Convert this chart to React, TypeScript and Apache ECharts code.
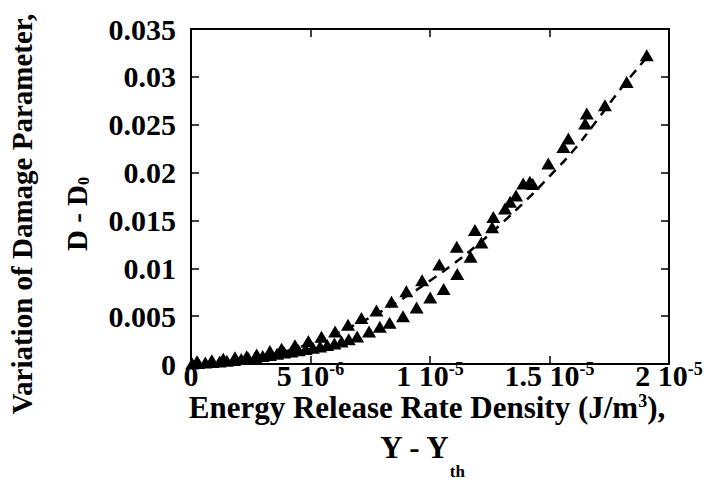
import React, { useEffect, useRef } from "react";
import * as echarts from "echarts";

// Energy release rate density (units of 1e-6 J/m^3) and damage variation (units of 1e-3)
const upperX = [0.25, 0.87, 1.35, 1.84, 2.33, 2.75, 3.3, 3.79, 4.35, 4.91, 5.46, 6.03, 6.57, 7.13, 7.76, 8.39, 9.01, 9.67, 10.39, 11.12, 11.88, 12.65, 13.35, 13.9, 14.18, 14.95, 15.79, 16.56, 17.32, 18.23, 19.07];
const upperY = [0.3, 0.4, 0.55, 0.7, 0.8, 1.0, 1.35, 1.6, 1.95, 2.4, 2.85, 3.4, 4.1, 4.8, 5.6, 6.5, 7.6, 8.75, 10.4, 12.24, 13.99, 15.37, 16.94, 18.86, 19.03, 20.95, 23.56, 26.17, 27.04, 29.47, 32.25];

const lowerX = [0.05, 0.3, 0.6, 0.9, 1.2, 1.5, 1.8, 2.1, 2.4, 2.7, 3.0, 3.3, 3.6, 3.9, 4.2, 4.5, 4.8, 5.1, 5.4, 5.7, 6.0, 6.3, 6.6, 6.95, 7.45, 7.9, 8.31, 8.87, 9.44, 10.01, 10.57, 11.14, 11.7, 12.15, 12.6, 13.14, 13.6, 14.3, 15.58, 16.49];
const lowerY = [0.05, 0.1, 0.15, 0.2, 0.27, 0.35, 0.43, 0.52, 0.62, 0.73, 0.84, 0.95, 1.07, 1.19, 1.31, 1.44, 1.57, 1.7, 1.84, 1.98, 2.15, 2.35, 2.58, 2.88, 3.4, 3.9, 4.3, 5.0, 5.89, 6.94, 7.83, 9.4, 11.2, 12.7, 14.3, 16.25, 17.6, 18.8, 22.68, 25.13];

const fitX = [0, 1, 2, 3, 4, 5, 6, 7, 8, 9, 10, 11, 12, 13, 14, 15, 16, 17, 18, 19.2];
const fitY = [0, 0.08, 0.33, 0.75, 1.35, 2.15, 3.1, 4.25, 5.55, 7.05, 8.7, 10.5, 12.5, 14.7, 17.05, 19.6, 22.3, 25.5, 28.8, 32.4];

const xTickMantissa = ["0", "5", "1", "1.5", "2"];
const xTickExponent = ["", "-6", "-5", "-5", "-5"];
const yTickLabels = ["0", "0.005", "0.01", "0.015", "0.02", "0.025", "0.03", "0.035"];

const FONT = "'Liberation Serif', 'Times New Roman', serif";

export default function App() {
  const ref = useRef<HTMLDivElement>(null);

  useEffect(() => {
    if (!ref.current) return;
    const chart = echarts.init(ref.current, null, { renderer: "svg" });

    const upper = upperX.map((x, i) => [x, upperY[i]]);
    const lower = lowerX.map((x, i) => [x, lowerY[i]]);
    const fit = fitX.map((x, i) => [x, fitY[i]]);

    const axisLine = { show: true, onZero: false, lineStyle: { color: "#000", width: 2 } };
    const axisTick = { show: true, inside: true, length: 8, lineStyle: { color: "#000", width: 1.5 } };

    const option: any = {
      animation: false,
      grid: { left: 191, right: 41, top: 29, bottom: 122, containLabel: false, outerBoundsMode: "none" },
      xAxis: [
        {
          type: "value",
          min: 0,
          max: 20,
          interval: 5,
          position: "bottom",
          axisLine,
          axisTick,
          splitLine: { show: false },
          axisLabel: {
            margin: -4,
            color: "#000",
            formatter: (v: number) => {
              const i = Math.round(v / 5);
              return xTickExponent[i]
                ? `{b|${xTickMantissa[i]} 10}{s|${xTickExponent[i]}}`
                : `{b|${xTickMantissa[i]}}`;
            },
            rich: {
              b: { fontFamily: FONT, fontWeight: "bold", fontSize: 30, lineHeight: 30, verticalAlign: "bottom", color: "#000" },
              s: { fontFamily: FONT, fontWeight: "bold", fontSize: 18, lineHeight: 18, verticalAlign: "top", color: "#000" },
            },
          },
        },
        {
          type: "value",
          min: 0,
          max: 20,
          interval: 5,
          position: "top",
          axisLine,
          axisTick,
          splitLine: { show: false },
          axisLabel: { show: false },
        },
      ],
      yAxis: [
        {
          type: "value",
          min: 0,
          max: 35,
          interval: 5,
          position: "left",
          axisLine,
          axisTick,
          splitLine: { show: false },
          axisLabel: {
            margin: 15,
            color: "#000",
            fontFamily: FONT,
            fontWeight: "bold",
            fontSize: 30,
            formatter: (v: number) => yTickLabels[Math.round(v / 5)],
          },
        },
        {
          type: "value",
          min: 0,
          max: 35,
          interval: 5,
          position: "right",
          axisLine,
          axisTick,
          splitLine: { show: false },
          axisLabel: { show: false },
        },
      ],
      graphic: [
        {
          type: "group",
          x: 49,
          y: 214,
          rotation: Math.PI / 2,
          children: [
            {
              type: "text",
              x: 0,
              y: -27,
              style: {
                text: "Variation of Damage Parameter,",
                fontFamily: FONT,
                fontWeight: "bold",
                fontSize: 29,
                fill: "#000",
                align: "center",
                verticalAlign: "middle",
              },
            },
            {
              type: "text",
              x: 0,
              y: 26,
              style: {
                text: "{m|D - D}{s|0}",
                fill: "#000",
                align: "center",
                verticalAlign: "middle",
                rich: {
                  m: { fontFamily: FONT, fontWeight: "bold", fontSize: 29, lineHeight: 32, verticalAlign: "bottom", fill: "#000" },
                  s: { fontFamily: FONT, fontWeight: "bold", fontSize: 16, lineHeight: 32, verticalAlign: "bottom", fill: "#000" },
                },
              },
            },
          ],
        },
        {
          type: "text",
          x: 427,
          y: 392,
          style: {
            text: "{t|Energy Release Rate Density (J/m}{s|3}{t|),}",
            fill: "#000",
            align: "center",
            verticalAlign: "top",
            rich: {
              t: { fontFamily: FONT, fontWeight: "bold", fontSize: 31, lineHeight: 31, verticalAlign: "bottom", fill: "#000" },
              s: { fontFamily: FONT, fontWeight: "bold", fontSize: 18, lineHeight: 18, verticalAlign: "top", fill: "#000" },
            },
          },
        },
        {
          type: "text",
          x: 422,
          y: 432,
          style: {
            text: "{t|Y - Y}{s|th}",
            fill: "#000",
            align: "center",
            verticalAlign: "top",
            rich: {
              t: { fontFamily: FONT, fontWeight: "bold", fontSize: 31, lineHeight: 31, verticalAlign: "top", fill: "#000" },
              s: { fontFamily: FONT, fontWeight: "bold", fontSize: 17, lineHeight: 48, verticalAlign: "bottom", fill: "#000" },
            },
          },
        },
      ],
      series: [
        {
          type: "line",
          data: fit,
          smooth: true,
          showSymbol: false,
          symbol: "none",
          lineStyle: { color: "#000", width: 2.5, type: [9, 7] },
          z: 2,
          silent: true,
        },
        {
          type: "scatter",
          data: lower,
          symbol: "triangle",
          symbolSize: [14, 12],
          itemStyle: { color: "#000", opacity: 1 },
          z: 3,
        },
        {
          type: "scatter",
          data: upper,
          symbol: "triangle",
          symbolSize: [14, 12],
          itemStyle: { color: "#000", opacity: 1 },
          z: 3,
        },
      ],
    };

    chart.setOption(option);
    return () => chart.dispose();
  }, []);

  return (
    <div
      ref={ref}
      style={{ position: "absolute", left: 0, top: 0, width: 710, height: 486, background: "#fff" }}
    />
  );
}
